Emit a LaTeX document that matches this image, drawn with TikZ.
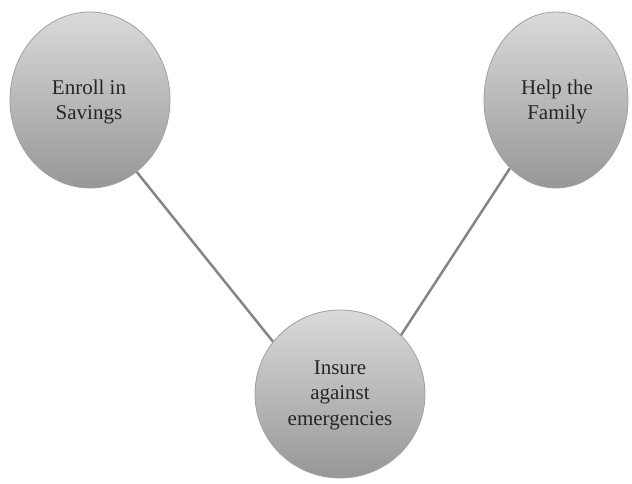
\documentclass[tikz,border=0pt]{standalone}
\usepackage{fontspec}
\setmainfont{Liberation Serif}
\usetikzlibrary{shapes.geometric,backgrounds,calc}
\definecolor{topc}{HTML}{DADADA}
\definecolor{botc}{HTML}{979797}
\definecolor{edgec}{HTML}{A0A0A0}
\definecolor{linec}{HTML}{858585}
\tikzset{
  bubble/.style={ellipse, draw=edgec, line width=0.8pt, top color=topc, bottom color=botc,
    inner sep=0pt, minimum width=#1},
  txt/.style={align=center, font=\fontsize{21}{25.5}\selectfont, text=black!85},
  link/.style={draw=linec, line width=2.5pt}
}
\begin{document}
\begin{tikzpicture}[x=1pt,y=-1pt]
\useasboundingbox (0,0) rectangle (632,483);
\node[bubble=160pt, minimum height=176pt] (enroll) at (90,100) {};
\node[bubble=144pt, minimum height=176pt] (help) at (556,100) {};
\node[bubble=170pt, minimum height=168pt] (insure) at (340,394) {};
\node[txt] (tenroll) at (89,102) {Enroll in\\Savings};
\node[txt] (thelp) at (557,102) {Help the\\Family};
\node[txt] (tinsure) at (340,395) {Insure\\against\\emergencies};
\begin{scope}[on background layer]
\path[link] (enroll.-57) -- ($(enroll.-57)!1.1!(insure.142)$);
\path[link] (help.236) -- ($(help.236)!1.1!(insure.44)$);
\end{scope}
\end{tikzpicture}
\end{document}
